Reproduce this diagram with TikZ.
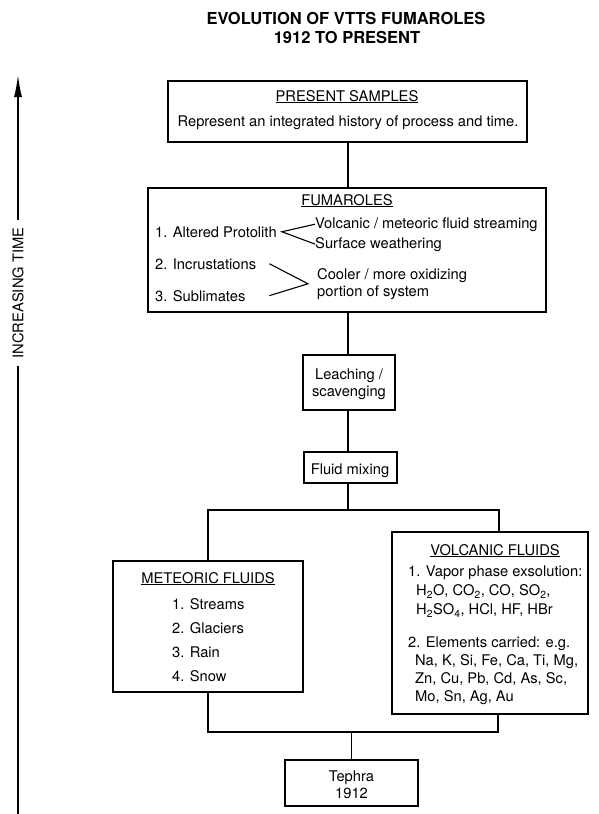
\documentclass[tikz,border=0pt]{standalone}
\usepackage{fontspec}
\setmainfont{TeX Gyre Heros}
\usetikzlibrary{arrows.meta,positioning}

\begin{document}
\begin{tikzpicture}[x=1pt, y=-1pt,
		box/.style={draw, line width=1.6pt, inner sep=0pt},
		link/.style={draw, line width=1.1pt},
		txt/.style={inner sep=0pt, font=\fontsize{14.7}{18}\selectfont},
		ttl/.style={inner sep=0pt, font=\fontsize{16.5}{19}\selectfont\bfseries}]
	\useasboundingbox (0,0) rectangle (599,814);

	% title
	\node[ttl, anchor=base] (t1) at (346,24) {EVOLUTION OF VTTS FUMAROLES};
	\node[ttl, anchor=base] (t2) at (347,43) {1912 TO PRESENT};

	% boxes
	\node[box, minimum width=359pt, minimum height=61pt]  (present) at (347.5,111.5) {};
	\node[box, minimum width=398pt, minimum height=124pt] (fum)     at (347,250) {};
	\node[box, minimum width=92pt, minimum height=55pt]   (leach)   at (349,382.5) {};
	\node[box, minimum width=93pt, minimum height=31pt]   (mix)     at (350.5,467.5) {};
	\node[box, minimum width=190pt, minimum height=131pt] (met)     at (208,626.5) {};
	\node[box, minimum width=196pt, minimum height=182pt] (volc)    at (490,623) {};
	\node[box, minimum width=133pt, minimum height=46pt]  (teph)    at (351.5,783) {};

	% present samples
	\node[txt, anchor=base] (presh) at (347,101) {\underline{PRESENT SAMPLES}};
	\node[txt, anchor=base] (pres)  at (348,126) {Represent an integrated history of process and time.};

	% fumaroles
	\node[txt, anchor=base] (fumh) at (347,205) {\underline{FUMAROLES}};
	\node[txt, anchor=base west] (prot) at (155,237) {1. Altered Protolith};
	\node[txt, anchor=base west] (strm) at (315,228) {Volcanic / meteoric fluid streaming};
	\node[txt, anchor=base west] (weat) at (315,248) {Surface weathering};
	\node[txt, anchor=base west] (incr) at (155,269) {2. Incrustations};
	\node[txt, anchor=base west] (subl) at (155,301) {3. Sublimates};
	\node[txt, anchor=north west, align=left, font=\fontsize{14.7}{17}\selectfont] (cool) at (317,268)
		{Cooler / more oxidizing\\portion of system};
	\path[link]
		(strm.west) -- ([xshift=5pt]prot.east) -- (weat.west);
	\path[link]
		([xshift=13pt]incr.east) -- ([xshift=-9pt]cool.west) -- ([xshift=13pt]incr.east |- subl.east);

	% leaching and mixing
	\node[txt, anchor=north, align=center, font=\fontsize{14.7}{16.5}\selectfont] (leacht) at (349,369)
		{Leaching /\\scavenging};
	\node[txt, anchor=base] (mixt) at (350,474) {Fluid mixing};

	% meteoric fluids
	\node[txt, anchor=base] (meth) at (208,583) {\underline{METEORIC FLUIDS}};
	\node[txt, anchor=north west, align=left, font=\fontsize{14.7}{24}\selectfont] (metl) at (172,598)
		{1. Streams\\2. Glaciers\\3. Rain\\4. Snow};

	% volcanic fluids
	\node[txt, anchor=base] (volch) at (495,555) {\underline{VOLCANIC FLUIDS}};
	\node[txt, anchor=north west, align=left, font=\fontsize{14.7}{19}\selectfont] (vap) at (408,566)
		{1. Vapor phase exsolution:\\
		\hspace*{8pt}H\textsubscript{2}O, CO\textsubscript{2}, CO, SO\textsubscript{2},\\
		\hspace*{8pt}H\textsubscript{2}SO\textsubscript{4}, HCl, HF, HBr};
	\node[txt, anchor=north west, align=left, font=\fontsize{14.7}{17.7}\selectfont] (elem) at (408,637)
		{2. Elements carried: e.g.\\
		\hspace*{7pt}Na, K, Si, Fe, Ca, Ti, Mg,\\
		\hspace*{7pt}Zn, Cu, Pb, Cd, As, Sc,\\
		\hspace*{7pt}Mo, Sn, Ag, Au};

	% tephra
	\node[txt, anchor=north, align=center, font=\fontsize{14.7}{17}\selectfont] (tepht) at (351.5,771)
		{Tephra\\1912};

	% connectors
	\coordinate (spine)  at (348,0);
	\coordinate (splitL) at (208,510);
	\coordinate (splitR) at (499,510);
	\coordinate (joinL)  at (208,732);
	\coordinate (joinR)  at (498,732);
	\path[link]
		(present.south -| spine) -- (fum.north -| spine)
		(fum.south -| spine) -- (leach.north -| spine)
		(leach.south -| spine) -- (mix.north -| spine)
		(mix.south -| spine) -- (spine |- splitR);
	\path[link] (met.north) -- (splitL) -- (splitR) -- (volc.north -| splitR);
	\path[link] (met.south) -- (joinL) -- (joinR) -- (volc.south -| joinR);
	\path[link] (teph.north) -- (teph.north |- joinR);

	% time axis
	\coordinate (tlow)  at (18,814);
	\coordinate (thigh) at (18,75);
	\node[txt, rotate=90, inner xsep=7pt] (time) at (18,293) {INCREASING TIME};
	\draw[line width=1.3pt] (tlow) -- (time.west);
	\draw[line width=1.3pt, -{Latex[length=22pt,width=8pt]}] (time.east) -- (thigh);
\end{tikzpicture}
\end{document}
